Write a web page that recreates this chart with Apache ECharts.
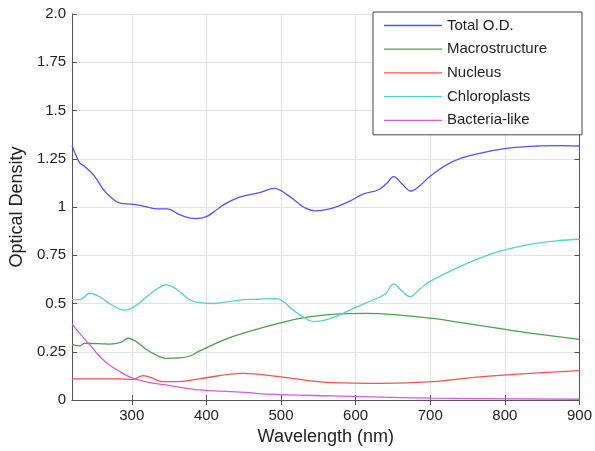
<!DOCTYPE html>
<html>
<head>
<meta charset="utf-8">
<script src="https://cdn.jsdelivr.net/npm/echarts@6/dist/echarts.min.js"></script>
<style>
  html, body { margin: 0; padding: 0; background: #fff; }
  #chart { width: 595px; height: 451px; }
</style>
</head>
<body>
<div id="chart"></div>
<script>
// values
const seriesNames = ['Total O.D.', 'Macrostructure', 'Nucleus', 'Chloroplasts', 'Bacteria-like'];
const xTicks = [300, 400, 500, 600, 700, 800, 900];
const yTicks = [0, 0.25, 0.5, 0.75, 1, 1.25, 1.5, 1.75, 2];

const totalX = [220, 230, 237, 250, 262, 272, 284, 300, 315, 335, 348, 364, 385, 400, 415, 427, 440, 453, 471, 491, 507, 520, 530, 545, 565, 592, 610, 630, 641, 651, 662, 674, 686, 699, 730, 766, 802, 842, 870, 900];
const totalY = [1.32, 1.23, 1.21, 1.16, 1.09, 1.05, 1.02, 1.015, 1.005, 0.99, 0.99, 0.96, 0.94, 0.95, 0.99, 1.02, 1.045, 1.06, 1.074, 1.097, 1.067, 1.03, 1.0, 0.98, 0.99, 1.03, 1.067, 1.088, 1.12, 1.157, 1.12, 1.083, 1.11, 1.157, 1.235, 1.278, 1.304, 1.316, 1.318, 1.316];

const macroX = [220, 230, 237, 270, 286, 295, 305, 320, 337, 346, 364, 378, 391, 435, 480, 525, 569, 614, 659, 703, 748, 792, 837, 900];
const macroY = [0.288, 0.28, 0.294, 0.29, 0.30, 0.32, 0.305, 0.26, 0.225, 0.216, 0.218, 0.228, 0.255, 0.328, 0.38, 0.423, 0.444, 0.449, 0.44, 0.423, 0.397, 0.371, 0.345, 0.314];

const nucleusX = [220, 284, 302, 315, 324, 342, 360, 391, 449, 502, 569, 636, 703, 770, 900];
const nucleusY = [0.109, 0.109, 0.107, 0.126, 0.118, 0.095, 0.095, 0.11, 0.138, 0.118, 0.09, 0.086, 0.095, 0.121, 0.152];

const chloroX = [220, 230, 244, 257, 270, 291, 302, 320, 333, 346, 360, 378, 391, 410, 430, 450, 470, 490, 500, 515, 530, 543, 560, 583, 600, 623, 640, 651, 662, 673, 686, 699, 739, 784, 828, 870, 900];
const chloroY = [0.52, 0.52, 0.553, 0.535, 0.50, 0.466, 0.48, 0.535, 0.574, 0.597, 0.574, 0.518, 0.504, 0.50, 0.51, 0.52, 0.522, 0.525, 0.518, 0.47, 0.43, 0.406, 0.415, 0.449, 0.48, 0.518, 0.55, 0.601, 0.565, 0.535, 0.575, 0.613, 0.69, 0.76, 0.803, 0.825, 0.833];

const bactX = [220, 230, 244, 257, 270, 288, 302, 324, 346, 391, 451, 480, 569, 703, 900];
const bactY = [0.394, 0.345, 0.285, 0.225, 0.181, 0.138, 0.112, 0.09, 0.078, 0.052, 0.04, 0.03, 0.021, 0.01, 0.004];

const colors = ['#5252ff', '#47a347', '#ff5050', '#4fd3d3', '#d85ae6'];
const FONT = 'Liberation Sans, Arial, sans-serif';

const chart = echarts.init(document.getElementById('chart'));

function pairs(xs, ys) { return xs.map((x, i) => [x, ys[i]]); }

function lineSeries(name, xs, ys, color) {
    return {
        name: name, type: 'line', data: pairs(xs, ys),
        smooth: 0.4, symbol: 'none', showSymbol: false,
        lineStyle: { color: color, width: 1.3 },
        itemStyle: { color: color },
        animation: false
    };
}

const boxAxis = { show: true, lineStyle: { color: '#555', width: 1 } };
const inTicks = { show: true, inside: true, length: 5, lineStyle: { color: '#555' } };

chart.setOption({
    backgroundColor: '#fff',
    textStyle: { fontFamily: FONT },
    grid: { left: 72, right: 15, top: 14, bottom: 51 },
    legend: {
        orient: 'vertical', left: 373, top: 12,
        padding: [6, 35, 7, 11], itemGap: 8.7,
        itemWidth: 58, itemHeight: 14,
        icon: 'path://M0,0H58V1.3H0Z',
        backgroundColor: '#fff', borderColor: '#444', borderWidth: 1,
        textStyle: { fontSize: 15, color: '#222', fontFamily: FONT },
        data: seriesNames
    },
    xAxis: [{
        type: 'value', min: 220, max: 900,
        name: 'Wavelength (nm)', nameLocation: 'middle', nameGap: 28,
        nameTextStyle: { fontSize: 18, color: '#222', fontFamily: FONT },
        axisLine: boxAxis,
        axisTick: Object.assign({ customValues: xTicks }, inTicks),
        axisLabel: { customValues: xTicks, fontSize: 15, color: '#222', margin: 8, fontFamily: FONT },
        splitLine: { show: true, lineStyle: { color: '#e3e3e3', width: 1 } }
    }, {
        type: 'value', min: 220, max: 900, position: 'top',
        axisLine: boxAxis,
        axisTick: Object.assign({ customValues: xTicks }, inTicks),
        axisLabel: { show: false },
        splitLine: { show: false }
    }],
    yAxis: [{
        type: 'value', min: 0, max: 2, interval: 0.25,
        name: 'Optical Density', nameLocation: 'middle', nameGap: 46,
        nameTextStyle: { fontSize: 18, color: '#222', fontFamily: FONT },
        axisLine: boxAxis,
        axisTick: inTicks,
        axisLabel: {
            fontSize: 15, color: '#222', margin: 6, fontFamily: FONT,
            formatter: v => (v === 2 ? '2.0' : String(v))
        },
        splitLine: { show: true, lineStyle: { color: '#e3e3e3', width: 1 } }
    }, {
        type: 'value', min: 0, max: 2, interval: 0.25, position: 'right',
        axisLine: boxAxis,
        axisTick: inTicks,
        axisLabel: { show: false },
        splitLine: { show: false }
    }],
    series: [
        lineSeries(seriesNames[0], totalX, totalY, colors[0]),
        lineSeries(seriesNames[1], macroX, macroY, colors[1]),
        lineSeries(seriesNames[2], nucleusX, nucleusY, colors[2]),
        lineSeries(seriesNames[3], chloroX, chloroY, colors[3]),
        lineSeries(seriesNames[4], bactX, bactY, colors[4])
    ]
});
</script>
</body>
</html>
